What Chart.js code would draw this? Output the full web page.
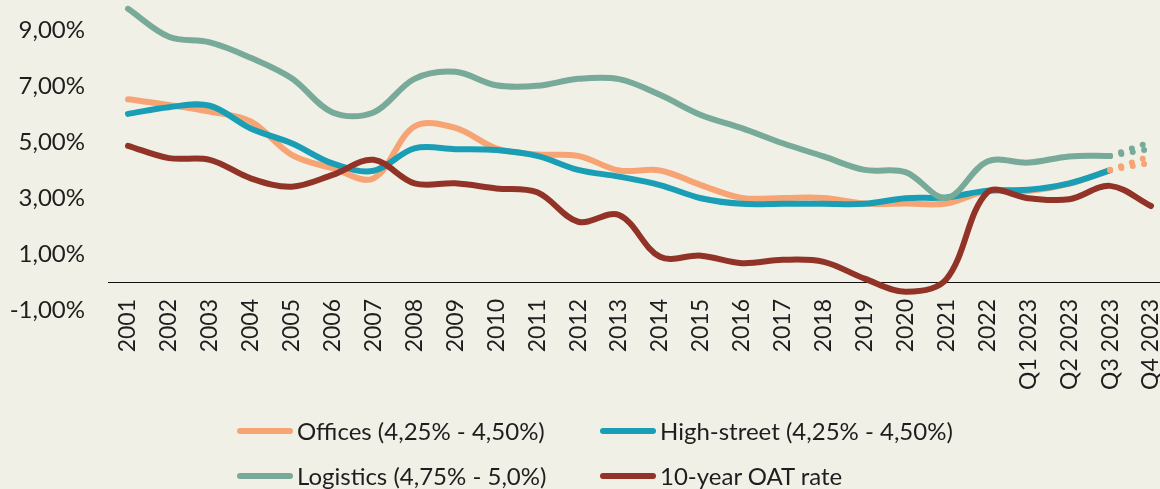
<!DOCTYPE html>
<html><head><meta charset="utf-8">
<script src="https://cdn.jsdelivr.net/npm/chart.js@4.4.0/dist/chart.umd.min.js"></script>
<style>
html,body{margin:0;padding:0;background:#F0F0E6;overflow:hidden}
#wrap{position:relative;width:1160px;height:489px}
#legend{position:absolute;left:237px;top:408px;display:grid;grid-template-columns:363px auto;grid-auto-rows:45px;font-family:Lato,sans-serif;font-size:24px;color:#1e1e1e}
.item{display:flex;align-items:center;white-space:nowrap}
.sw{width:56px;height:6px;border-radius:3px;margin-right:4px;flex:none}
</style></head><body>
<div id="wrap"><canvas id="c" width="1160" height="489"></canvas><div id="legend"></div></div>
<script>
const categories = ['2001','2002','2003','2004','2005','2006','2007','2008','2009','2010','2011','2012','2013','2014','2015','2016','2017','2018','2019','2020','2021','2022','Q1 2023','Q2 2023','Q3 2023','Q4 2023'];
const offices    = [6.52,6.32,6.08,5.73,4.54,4.06,3.70,5.55,5.50,4.77,4.55,4.50,3.98,3.98,3.46,3.00,3.00,3.00,2.80,2.80,2.80,3.25,3.25,3.50,4.00,null];
const highStreet = [6.00,6.24,6.29,5.48,4.95,4.23,3.97,4.77,4.74,4.71,4.50,4.00,3.76,3.46,2.99,2.79,2.79,2.79,2.79,2.99,3.02,3.26,3.29,3.52,3.98,null];
const logistics  = [9.75,8.75,8.55,8.00,7.27,6.05,6.05,7.25,7.50,7.02,7.00,7.25,7.24,6.68,5.96,5.49,4.95,4.48,4.00,3.92,3.00,4.30,4.26,4.48,4.50,null];
const oatRate    = [4.86,4.42,4.36,3.70,3.40,3.82,4.36,3.52,3.52,3.34,3.20,2.15,2.39,0.90,0.94,0.67,0.79,0.72,0.12,-0.35,0.10,3.20,2.99,2.95,3.43,2.71];
const officesHigh   = [null,null,null,null,null,null,null,null,null,null,null,null,null,null,null,null,null,null,null,null,null,null,null,null,4.00,4.50];
const officesLow    = [null,null,null,null,null,null,null,null,null,null,null,null,null,null,null,null,null,null,null,null,null,null,null,null,4.00,4.25];
const logisticsHigh = [null,null,null,null,null,null,null,null,null,null,null,null,null,null,null,null,null,null,null,null,null,null,null,null,4.50,5.00];
const logisticsLow  = [null,null,null,null,null,null,null,null,null,null,null,null,null,null,null,null,null,null,null,null,null,null,null,null,4.50,4.75];
const yTicks = [-1,1,3,5,7,9];
const seriesLabels = ['Offices (4,25% - 4,50%)','High-street (4,25% - 4,50%)','Logistics (4,75% - 5,0%)','10-year OAT rate'];
const colors = ['#F7A474','#1A9EB6','#78AA99','#923328'];

const solid = (label, data, color, order) => ({label, data, borderColor: color, backgroundColor: color, order, clip: false, legend: true});
const dotted = (data, color) => ({label: '', data, borderColor: color, backgroundColor: color, order: 0, clip: false, tension: 0, borderDash: [0, 11.5], legend: false});

const zeroLine = {
  id: 'zeroLine',
  beforeDatasetsDraw(chart) {
    const {ctx, chartArea, scales: {y}} = chart;
    const py = Math.round(y.getPixelForValue(0)) + 0.5;
    ctx.save();
    ctx.strokeStyle = '#111';
    ctx.lineWidth = 1.2;
    ctx.beginPath();
    ctx.moveTo(chartArea.left - 20, py);
    ctx.lineTo(chart.width, py);
    ctx.stroke();
    ctx.restore();
  }
};

const chart = new Chart(document.getElementById('c'), {
  type: 'line',
  data: {
    labels: categories,
    datasets: [
      solid(seriesLabels[0], offices, colors[0], 4),
      solid(seriesLabels[1], highStreet, colors[1], 3),
      solid(seriesLabels[2], logistics, colors[2], 2),
      solid(seriesLabels[3], oatRate, colors[3], 1),
      dotted(officesHigh, colors[0]),
      dotted(officesLow, colors[0]),
      dotted(logisticsHigh, colors[2]),
      dotted(logisticsLow, colors[2])
    ]
  },
  options: {
    responsive: false,
    animation: false,
    devicePixelRatio: 1,
    layout: {padding: {top: 20, right: 9, left: 0, bottom: 179}},
    plugins: {legend: {display: false}, tooltip: {enabled: false}},
    elements: {
      point: {radius: 0, hoverRadius: 0},
      line: {borderWidth: 6, borderCapStyle: 'round', borderJoinStyle: 'round', tension: 0.35}
    },
    scales: {
      x: {
        type: 'category', offset: false, position: {y: 0},
        grid: {display: false, drawTicks: false}, border: {display: false},
        ticks: {autoSkip: false, minRotation: 90, maxRotation: 90, padding: 17, color: '#1e1e1e', font: {family: 'Lato', size: 23}},
        afterFit: s => { s.height = 0; s.paddingLeft = 0; s.paddingRight = 0; }
      },
      y: {
        min: -1, max: 9.35,
        grid: {display: false, drawTicks: false}, border: {display: false},
        afterBuildTicks: s => { s.ticks = yTicks.map(v => ({value: v})); },
        ticks: {padding: 43, color: '#1e1e1e', font: {family: 'Lato', size: 24},
          callback: v => Number(v).toFixed(2).replace('.', ',') + '%'},
        afterFit: s => { s.width = 128; s.paddingTop = 0; s.paddingBottom = 0; }
      }
    }
  },
  plugins: [zeroLine]
});

const legendEl = document.getElementById('legend');
chart.data.datasets.filter(d => d.legend).forEach(d => {
  const item = document.createElement('div');
  item.className = 'item';
  const sw = document.createElement('span');
  sw.className = 'sw';
  sw.style.background = d.borderColor;
  const tx = document.createElement('span');
  tx.textContent = d.label;
  item.appendChild(sw);
  item.appendChild(tx);
  legendEl.appendChild(item);
});
</script>
</body></html>
